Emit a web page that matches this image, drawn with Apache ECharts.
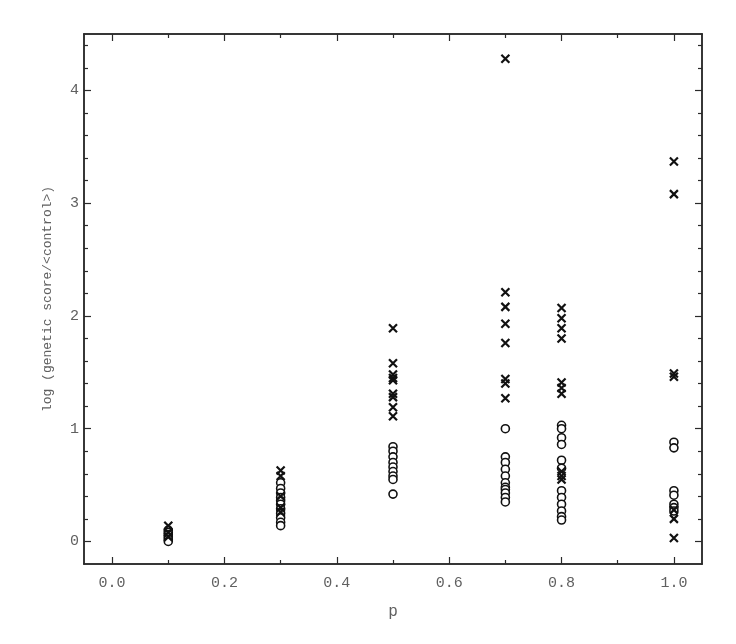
<!DOCTYPE html>
<html>
<head>
<meta charset="utf-8">
<script src="https://cdn.jsdelivr.net/npm/echarts@6/dist/echarts.min.js"></script>
<style>
  html, body { margin: 0; padding: 0; background: #fff; }
  #main { width: 736px; height: 644px; }
</style>
</head>
<body>
<div id="main"></div>
<script>
// column positions (p) and the values, one list per column
var pValues = [0.1, 0.3, 0.5, 0.7, 0.8, 1.0];
var crossValues = [
  [0.14, 0.08, 0.04],
  [0.63, 0.58, 0.40, 0.30, 0.26],
  [1.89, 1.58, 1.48, 1.45, 1.43, 1.31, 1.28, 1.19, 1.11],
  [4.28, 2.21, 2.08, 1.93, 1.76, 1.44, 1.40, 1.27],
  [2.07, 1.98, 1.89, 1.80, 1.41, 1.36, 1.31, 0.62, 0.58, 0.55],
  [3.37, 3.08, 1.49, 1.46, 0.28, 0.20, 0.03]
];
var circleValues = [
  [0.10, 0.08, 0.06, 0.04, 0.02, 0.00],
  [0.52, 0.47, 0.43, 0.39, 0.36, 0.33, 0.29, 0.25, 0.21, 0.17, 0.14],
  [0.84, 0.80, 0.75, 0.70, 0.66, 0.62, 0.58, 0.55, 0.42],
  [1.00, 0.75, 0.70, 0.64, 0.58, 0.52, 0.48, 0.46, 0.43, 0.39, 0.35],
  [1.03, 1.00, 0.92, 0.86, 0.72, 0.65, 0.45, 0.39, 0.33, 0.27, 0.22, 0.19],
  [0.88, 0.83, 0.45, 0.41, 0.33, 0.30, 0.27]
];
var xMajor = [0, 0.2, 0.4, 0.6, 0.8, 1.0];
var xMinor = [0.1, 0.3, 0.5, 0.7, 0.9];
var yMajor = [0, 1, 2, 3, 4];
var yMinor = [0.2, 0.4, 0.6, 0.8, 1.2, 1.4, 1.6, 1.8, 2.2, 2.4, 2.6, 2.8, 3.2, 3.4, 3.6, 3.8, 4.2, 4.4];

function toPoints(cols) {
  var out = [];
  for (var i = 0; i < pValues.length; i++) {
    for (var j = 0; j < cols[i].length; j++) {
      out.push([pValues[i], cols[i][j]]);
    }
  }
  return out;
}

var chart = echarts.init(document.getElementById('main'));
var font = 'Liberation Mono';
var lineColor = '#2a2a2a';
var labelColor = '#606060';

// 刻度分两组：主刻度带标签，次刻度画在重叠的第二个 grid 上
function xAxisOf(grid, pos, ticks, len, labels) {
  return {
    type: 'value', gridIndex: grid, position: pos, min: -0.05, max: 1.05,
    splitLine: { show: false },
    axisLine: { show: true, onZero: false, lineStyle: { color: lineColor, width: 1.5 } },
    axisTick: { show: true, inside: true, length: len, customValues: ticks, lineStyle: { color: lineColor, width: 1.2 } },
    axisLabel: labels ? {
      show: true, customValues: ticks, margin: 12, fontFamily: font, fontSize: 15, color: labelColor,
      formatter: function (v) { return v.toFixed(1); }
    } : { show: false },
    name: labels ? 'p' : '', nameLocation: 'middle', nameGap: 40,
    nameTextStyle: { fontFamily: font, fontSize: 16, color: labelColor }
  };
}
function yAxisOf(grid, pos, ticks, len, labels) {
  return {
    type: 'value', gridIndex: grid, position: pos, min: -0.2, max: 4.5,
    splitLine: { show: false },
    axisLine: { show: true, onZero: false, lineStyle: { color: lineColor, width: 1.5 } },
    axisTick: { show: true, inside: true, length: len, customValues: ticks, lineStyle: { color: lineColor, width: 1.2 } },
    axisLabel: labels ? {
      show: true, customValues: ticks, margin: 5, fontFamily: font, fontSize: 15, color: labelColor
    } : { show: false },
    name: labels ? 'log (genetic score/<control>)' : '', nameLocation: 'middle', nameGap: 30,
    nameTextStyle: { fontFamily: font, fontSize: 13, color: labelColor }
  };
}

chart.setOption({
  backgroundColor: '#fff',
  animation: false,
  grid: [
    { left: 84, right: 34, top: 34, bottom: 80 },
    { left: 84, right: 34, top: 34, bottom: 80 }
  ],
  xAxis: [
    xAxisOf(0, 'bottom', xMajor, 7, true),
    xAxisOf(0, 'top', xMajor, 7, false),
    xAxisOf(1, 'bottom', xMinor, 4, false),
    xAxisOf(1, 'top', xMinor, 4, false)
  ],
  yAxis: [
    yAxisOf(0, 'left', yMajor, 7, true),
    yAxisOf(0, 'right', yMajor, 7, false),
    yAxisOf(1, 'left', yMinor, 4, false),
    yAxisOf(1, 'right', yMinor, 4, false)
  ],
  series: [
    {
      name: 'circle', type: 'scatter', xAxisIndex: 0, yAxisIndex: 0,
      data: toPoints(circleValues),
      symbol: 'circle', symbolSize: 8,
      itemStyle: { color: '#fff', borderColor: '#111', borderWidth: 1.6, opacity: 1 },
      z: 2
    },
    {
      name: 'cross', type: 'scatter', xAxisIndex: 0, yAxisIndex: 0,
      data: toPoints(crossValues),
      symbol: 'path://M0,0L10,10M10,0L0,10', symbolSize: 8,
      itemStyle: { color: 'rgba(0,0,0,0)', borderColor: '#111', borderWidth: 2.2, opacity: 1 },
      z: 3
    }
  ]
});
</script>
</body>
</html>
